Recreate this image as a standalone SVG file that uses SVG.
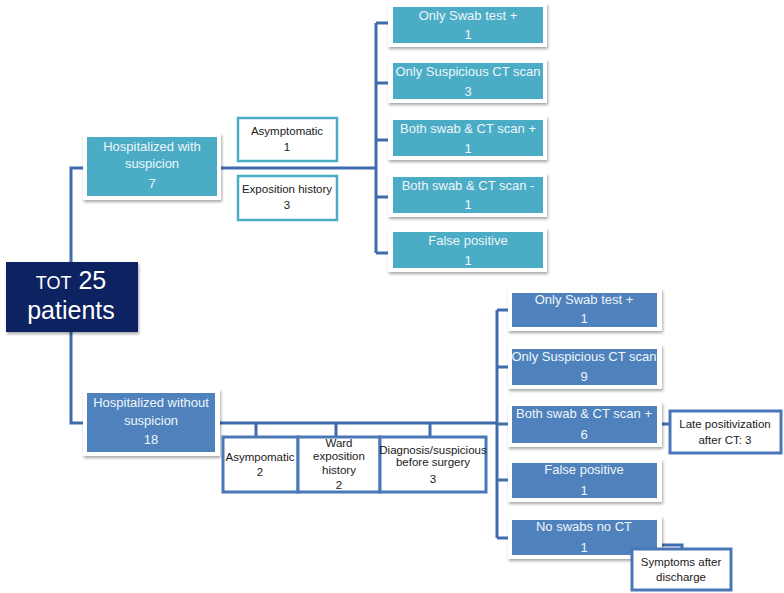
<svg xmlns="http://www.w3.org/2000/svg" width="784" height="593" viewBox="0 0 784 593">
<defs>
<filter id="sh" x="-10%" y="-10%" width="125%" height="135%">
<feDropShadow dx="1" dy="2" stdDeviation="1.5" flood-color="#000" flood-opacity="0.35"/>
</filter>
<style>
.frame{fill:#fff;filter:url(#sh)}
.teal{fill:#4bacc6}
.blue{fill:#4f81bd}
.navy{fill:#0c2461;filter:url(#sh)}
.wt{fill:#fff;stroke:#4bacc6;stroke-width:2.5}
.wb{fill:#fff;stroke:#4a77b8;stroke-width:3}
.conn{fill:none;stroke:#3f6cad;stroke-width:3}
text{font-family:"Liberation Sans",Arial,sans-serif;text-anchor:middle}
.lt{fill:#eef6f9;font-size:13px}
.dk{fill:#1a1a1a;font-size:11.5px}
.big{fill:#fff;font-size:25px}
</style>
</defs>
<rect width="784" height="593" fill="#fff"/>

<g id="connectors">
<path class="conn" d="M71,262 V168 H85"/>
<path class="conn" d="M221,168 H376"/>
<path class="conn" d="M376,23 V253"/>
<path class="conn" d="M376,23 H390 M376,83 H390 M376,140 H390 M376,197 H390 M376,253 H390"/>
<path class="conn" d="M71,332 V423 H85"/>
<path class="conn" d="M219,423 H497"/>
<path class="conn" d="M497,310 V538"/>
<path class="conn" d="M497,310 H510 M497,367 H510 M497,424 H510 M497,480 H510 M497,538 H510"/>
<path class="conn" d="M256,423 V437 M336,423 V437 M430,423 V437"/>
<path class="conn" d="M660,424 H670"/>
<path class="conn" d="M660,545 H682 V549"/>
</g>

<g id="tot">
<rect class="navy" x="6" y="262" width="132" height="70"/>
<text class="big" x="71" y="289"><tspan font-size="18px">TOT</tspan> 25</text>
<text class="big" x="71" y="319">patients</text>
</g>

<g id="hosp-with">
<rect class="frame" x="83" y="133" width="138" height="67"/>
<rect class="teal" x="87" y="137" width="130" height="59"/>
<text class="lt" x="152" y="151">Hospitalized with</text>
<text class="lt" x="152" y="168">suspicion</text>
<text class="lt" x="152" y="188">7</text>
</g>

<g id="asymptomatic-1">
<rect class="wt" x="238" y="118" width="99" height="43"/>
<text class="dk" x="287" y="135">Asymptomatic</text>
<text class="dk" x="287" y="151">1</text>
</g>

<g id="exposition-history">
<rect class="wt" x="238" y="176" width="99" height="44"/>
<text class="dk" x="287" y="193">Exposition history</text>
<text class="dk" x="287" y="209">3</text>
</g>

<g id="t-swab">
<rect class="frame" x="388" y="3" width="159" height="44"/>
<rect class="teal" x="393" y="7" width="150" height="36"/>
<text class="lt" x="468" y="20">Only Swab test +</text>
<text class="lt" x="468" y="39">1</text>
</g>
<g id="t-ct">
<rect class="frame" x="388" y="59" width="159" height="44"/>
<rect class="teal" x="393" y="63" width="150" height="36"/>
<text class="lt" x="468" y="76">Only Suspicious CT scan</text>
<text class="lt" x="468" y="96">3</text>
</g>
<g id="t-both-pos">
<rect class="frame" x="388" y="116" width="159" height="44"/>
<rect class="teal" x="393" y="120" width="150" height="36"/>
<text class="lt" x="468" y="133">Both swab &amp; CT scan +</text>
<text class="lt" x="468" y="153">1</text>
</g>
<g id="t-both-neg">
<rect class="frame" x="388" y="173" width="159" height="44"/>
<rect class="teal" x="393" y="177" width="150" height="36"/>
<text class="lt" x="468" y="190">Both swab &amp; CT scan -</text>
<text class="lt" x="468" y="209">1</text>
</g>
<g id="t-false">
<rect class="frame" x="388" y="228" width="159" height="44"/>
<rect class="teal" x="393" y="232" width="150" height="36"/>
<text class="lt" x="468" y="245">False positive</text>
<text class="lt" x="468" y="265">1</text>
</g>

<g id="hosp-without">
<rect class="frame" x="83" y="389" width="137" height="67"/>
<rect class="blue" x="87" y="393" width="128" height="59"/>
<text class="lt" x="151" y="407">Hospitalized without</text>
<text class="lt" x="151" y="425">suspicion</text>
<text class="lt" x="151" y="444">18</text>
</g>

<g id="asympomatic-2">
<rect class="wb" x="223" y="437" width="75" height="55"/>
<text class="dk" x="260" y="461">Asympomatic</text>
<text class="dk" x="260" y="476">2</text>
</g>
<g id="ward">
<rect class="wb" x="298" y="437" width="82" height="55"/>
<text class="dk" x="339" y="447">Ward</text>
<text class="dk" x="339" y="460">exposition</text>
<text class="dk" x="339" y="474">history</text>
<text class="dk" x="339" y="489">2</text>
</g>
<g id="diagnosis">
<rect class="wb" x="380" y="437" width="106" height="55"/>
<text class="dk" x="433" y="454" font-size="11px">Diagnosis/suspicious</text>
<text class="dk" x="433" y="466" font-size="11px">before surgery</text>
<text class="dk" x="433" y="483">3</text>
</g>

<g id="b-swab">
<rect class="frame" x="508" y="289" width="154" height="42"/>
<rect class="blue" x="512" y="293" width="145" height="34"/>
<text class="lt" x="584" y="304">Only Swab test +</text>
<text class="lt" x="584" y="323">1</text>
</g>
<g id="b-ct">
<rect class="frame" x="508" y="345" width="154" height="44"/>
<rect class="blue" x="512" y="349" width="145" height="36"/>
<text class="lt" x="584" y="361">Only Suspicious CT scan</text>
<text class="lt" x="584" y="381">9</text>
</g>
<g id="b-both-pos">
<rect class="frame" x="508" y="402" width="154" height="45"/>
<rect class="blue" x="512" y="406" width="145" height="37"/>
<text class="lt" x="584" y="418">Both swab &amp; CT scan +</text>
<text class="lt" x="584" y="439">6</text>
</g>
<g id="b-false">
<rect class="frame" x="508" y="459" width="154" height="43"/>
<rect class="blue" x="512" y="463" width="145" height="35"/>
<text class="lt" x="584" y="474">False positive</text>
<text class="lt" x="584" y="495">1</text>
</g>
<g id="b-noswab">
<rect class="frame" x="508" y="516" width="154" height="43"/>
<rect class="blue" x="512" y="520" width="145" height="35"/>
<text class="lt" x="584" y="531">No swabs no CT</text>
<text class="lt" x="584" y="552">1</text>
</g>

<g id="late">
<rect class="wb" x="670" y="411" width="111" height="42"/>
<text class="dk" x="725" y="428">Late positivization</text>
<text class="dk" x="725" y="444">after CT: 3</text>
</g>

<g id="symptoms">
<rect class="wb" x="632" y="549" width="99" height="41"/>
<text class="dk" x="681" y="566">Symptoms  after</text>
<text class="dk" x="681" y="581">discharge</text>
</g>
</svg>
